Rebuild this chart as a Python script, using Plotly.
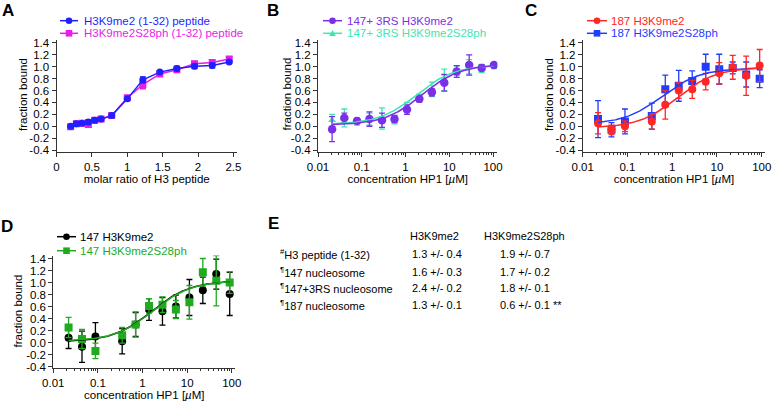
import numpy as np
import plotly.graph_objects as go

# ---------------- data ----------------
# Panel A: peptide titration
a_ratio = [0.2, 0.28, 0.36, 0.45, 0.54, 0.63, 0.78, 1.0, 1.22, 1.46, 1.7, 1.95, 2.2, 2.44]
a_me2 = [0.0, 0.04, 0.05, 0.07, 0.10, 0.12, 0.18, 0.46, 0.78, 0.91, 0.97, 1.01, 1.02, 1.08]
a_me2_err = [0.02, 0.04, 0.02, 0.04, 0.04, 0.02, 0.02, 0.02, 0.05, 0.02, 0.04, 0.04, 0.04, 0.02]
a_ph = [-0.01, 0.04, 0.05, 0.03, 0.10, 0.12, 0.18, 0.48, 0.70, 0.88, 0.95, 1.05, 1.07, 1.13]
a_ph_err = [0.03, 0.03, 0.04, 0.05, 0.03, 0.02, 0.02, 0.03, 0.07, 0.02, 0.04, 0.04, 0.03, 0.03]

# Panel B: 147+3RS nucleosomes
b_conc = [0.021, 0.04, 0.078, 0.15, 0.29, 0.56, 1.08, 2.07, 4.0, 7.7, 14.8, 28.5, 55, 105]
b_me2 = [-0.05, 0.14, 0.09, 0.12, 0.10, 0.12, 0.28, 0.46, 0.57, 0.73, 0.92, 1.03, 0.98, 1.03]
b_me2_err = [0.21, 0.08, 0.04, 0.12, 0.12, 0.06, 0.08, 0.05, 0.06, 0.14, 0.10, 0.17, 0.05, 0.04]
b_ph = [0.10, 0.14, 0.07, 0.12, 0.13, 0.10, 0.30, 0.48, 0.62, 0.78, 0.93, 1.00, 0.97, 1.02]
b_ph_err = [0.10, 0.15, 0.05, 0.10, 0.18, 0.06, 0.10, 0.06, 0.12, 0.18, 0.08, 0.12, 0.07, 0.05]

# Panel C: 187 nucleosomes
c_conc = [0.022, 0.044, 0.088, 0.35, 0.7, 1.4, 2.8, 5.6, 11.25, 22.5, 45, 90]
c_me2 = [0.05, -0.06, 0.0, 0.08, 0.36, 0.60, 0.62, 0.75, 0.89, 0.99, 0.85, 1.02]
c_me2_err = [0.18, 0.08, 0.09, 0.13, 0.24, 0.13, 0.15, 0.14, 0.18, 0.20, 0.33, 0.27]
c_ph = [0.12, -0.06, 0.08, 0.17, 0.62, 0.68, 0.76, 1.00, 0.96, 0.98, 0.87, 0.80]
c_ph_err = [0.31, 0.12, 0.21, 0.22, 0.24, 0.26, 0.17, 0.21, 0.25, 0.10, 0.21, 0.15]

# Panel D: 147 nucleosomes
d_conc = [0.022, 0.044, 0.088, 0.35, 0.7, 1.4, 2.8, 5.6, 11.25, 22.5, 45, 90]
d_me2 = [0.08, -0.07, 0.10, 0.02, 0.30, 0.55, 0.52, 0.60, 0.75, 0.87, 1.14, 0.81]
d_me2_err = [0.18, 0.26, 0.23, 0.21, 0.20, 0.18, 0.23, 0.19, 0.30, 0.22, 0.25, 0.36]
d_ph = [0.25, 0.06, -0.14, 0.12, 0.30, 0.61, 0.63, 0.55, 0.67, 1.17, 1.03, 1.00]
d_ph_err = [0.17, 0.16, 0.13, 0.13, 0.21, 0.12, 0.13, 0.15, 0.28, 0.23, 0.42, 0.18]

# Panel E: table of Kd values (µM)
e_rows = ["H3 peptide (1-32)", "147 nucleosome", "147+3RS nucleosome", "187 nucleosome"]
e_marks = ["#", "¶", "¶", "¶"]
e_kd_me2 = [1.3, 1.6, 2.4, 1.3]
e_kd_me2_err = [0.4, 0.3, 0.2, 0.1]
e_kd_ph = [1.9, 1.7, 1.8, 0.6]
e_kd_ph_err = [0.7, 0.2, 0.1, 0.1]
e_notes = ["", "", "", " **"]
e_headers = ["H3K9me2", "H3K9me2S28ph"]

# fit parameters (bottom, top) for binding curves; Kd taken from table
b_fit_me2 = (0.02, 1.04); b_fit_ph = (0.03, 1.03)
c_fit_me2 = (-0.03, 0.99); c_fit_ph = (0.03, 0.98)
d_fit_me2 = (0.01, 1.03); d_fit_ph = (0.02, 1.03)

y_ticks = [-0.4, -0.2, 0.0, 0.2, 0.4, 0.6, 0.8, 1.0, 1.2, 1.4]
y_ticktext = ["%.1f" % v for v in y_ticks]
a_xticks = [0, 0.5, 1, 1.5, 2, 2.5]
a_xticktext = ["0", "0.5", "1", "1.5", "2", "2.5"]
log_ticks = [0.01, 0.1, 1, 10, 100]
log_ticktext = ["0.01", "0.1", "1", "10", "100"]
log_minor = [m * d for d in [0.01, 0.1, 1, 10] for m in range(2, 10)]

# ---------------- styling ----------------
W, H = 773, 401
FONT = "Liberation Sans, Arial, Helvetica, sans-serif"
BLUE_A, MAG_A = "#1f1fff", "#e61ee6"
PURPLE, TEAL = "#7a2fe8", "#3ee6b4"
RED_C, BLUE_C = "#ff2626", "#1f3cff"
BLACK_D, GREEN_D = "#000000", "#1faa1f"


def dxp(p0, p1):
    return [p0 / W, p1 / W]


def dyp(top, bottom):
    return [1 - bottom / H, 1 - top / H]


def hill(x, kd, bottom, top):
    x = np.asarray(x)
    return bottom + (top - bottom) * x / (kd + x)


fig = go.Figure()


def err(arr, color, width=3):
    return dict(type="data", array=arr, visible=True, color=color, thickness=1.3, width=width)


# Panel A
fig.add_trace(go.Scatter(x=a_ratio, y=a_ph, mode="lines+markers", xaxis="x", yaxis="y",
                         line=dict(color=MAG_A, width=1.5),
                         marker=dict(symbol="square", size=7, color=MAG_A),
                         error_y=err(a_ph_err, MAG_A), hoverinfo="skip", showlegend=False))
fig.add_trace(go.Scatter(x=a_ratio, y=a_me2, mode="lines+markers", xaxis="x", yaxis="y",
                         line=dict(color=BLUE_A, width=1.5),
                         marker=dict(symbol="circle", size=7, color=BLUE_A),
                         error_y=err(a_me2_err, BLUE_A), hoverinfo="skip", showlegend=False))


def fit_panel(conc, series, xa, ya):
    grid = np.logspace(np.log10(min(conc)), np.log10(max(conc)), 200)
    for (vals, errs, kd, fit, color, sym, size) in series:
        fig.add_trace(go.Scatter(x=conc, y=vals, mode="markers", xaxis=xa, yaxis=ya,
                                 marker=dict(symbol=sym, size=size, color=color),
                                 error_y=err(errs, color), hoverinfo="skip", showlegend=False))
    for (vals, errs, kd, fit, color, sym, size) in series:
        fig.add_trace(go.Scatter(x=grid, y=hill(grid, kd, *fit), mode="lines", xaxis=xa, yaxis=ya,
                                 line=dict(color=color, width=1.5), hoverinfo="skip", showlegend=False))


fit_panel(b_conc, [(b_ph, b_ph_err, e_kd_ph[2], b_fit_ph, TEAL, "triangle-up", 7),
                   (b_me2, b_me2_err, e_kd_me2[2], b_fit_me2, PURPLE, "circle", 8.5)], "x2", "y2")
fit_panel(c_conc, [(c_ph, c_ph_err, e_kd_ph[3], c_fit_ph, BLUE_C, "square", 8),
                   (c_me2, c_me2_err, e_kd_me2[3], c_fit_me2, RED_C, "circle", 8)], "x3", "y3")
fit_panel(d_conc, [(d_me2, d_me2_err, e_kd_me2[1], d_fit_me2, BLACK_D, "circle", 8),
                   (d_ph, d_ph_err, e_kd_ph[1], d_fit_ph, GREEN_D, "square", 8)], "x4", "y4")

# legend keys (drawn manually as shapes + annotations, pixel positions)
legend_items = [
    # (x0, x1, y, text_x, color, symbol, text)
    (60, 78, 20.7, 82, BLUE_A, "circle", "H3K9me2 (1-32) peptide"),
    (60, 78, 33.3, 82, MAG_A, "square", "H3K9me2S28ph (1-32) peptide"),
    (323, 342, 20.7, 345, PURPLE, "circle", "147+ 3RS H3K9me2"),
    (323, 342, 33.3, 345, TEAL, "triangle", "147+ 3RS H3K9me2S28ph"),
    (587, 607, 20.7, 609, RED_C, "circle", "187 H3K9me2"),
    (587, 607, 33.3, 609, BLUE_C, "square", "187 H3K9me2S28ph"),
    (57, 76, 236.7, 78, BLACK_D, "circle", "147 H3K9me2"),
    (57, 76, 250.7, 78, GREEN_D, "square", "147 H3K9me2S28ph"),
]
annotations = []
shapes = []
R = 3.3
for (x0, x1, yy, tx, color, sym, text) in legend_items:
    px = lambda v: v / W
    py = lambda v: 1 - v / H
    shapes.append(dict(type="line", xref="paper", yref="paper", x0=px(x0), x1=px(x1),
                       y0=py(yy), y1=py(yy), line=dict(color=color, width=1.5)))
    xm = (x0 + x1) / 2
    if sym == "circle":
        shapes.append(dict(type="circle", xref="paper", yref="paper", x0=px(xm - R), x1=px(xm + R),
                           y0=py(yy + R), y1=py(yy - R), fillcolor=color, line=dict(width=0)))
    elif sym == "square":
        shapes.append(dict(type="rect", xref="paper", yref="paper", x0=px(xm - R), x1=px(xm + R),
                           y0=py(yy + R), y1=py(yy - R), fillcolor=color, line=dict(width=0)))
    else:
        path = "M %f %f L %f %f L %f %f Z" % (px(xm - R), py(yy + R * 0.8), px(xm + R), py(yy + R * 0.8),
                                             px(xm), py(yy - R))
        shapes.append(dict(type="path", xref="paper", yref="paper", path=path, fillcolor=color,
                           line=dict(width=0)))
    annotations.append(dict(x=tx / W, y=1 - yy / H, xref="paper", yref="paper", text=text,
                            showarrow=False, xanchor="left", yanchor="middle",
                            font=dict(family=FONT, size=11.5, color=color)))

# panel letters
for (lx, ly, lt) in [(8, 11, "A"), (273, 10, "B"), (531, 10, "C"), (7, 226, "D"), (273, 224, "E")]:
    annotations.append(dict(x=lx / W, y=1 - ly / H, xref="paper", yref="paper", text="<b>%s</b>" % lt,
                            showarrow=False, xanchor="center", yanchor="middle",
                            font=dict(family=FONT, size=17, color="black")))

# y-axis titles (rotated text)
TITLEF = dict(family=FONT, size=11.5, color="black")
for (tx, ty) in [(22.5, 94.5), (286, 94.5), (548.5, 94.5), (17.5, 311)]:
    annotations.append(dict(x=tx / W, y=1 - ty / H, xref="paper", yref="paper", text="fraction bound",
                            textangle=-90, showarrow=False, xanchor="center", yanchor="middle",
                            font=TITLEF))

# table E
TF = dict(family=FONT, size=11, color="black")
for hx, ht in zip([408, 482], e_headers):
    annotations.append(dict(x=hx / W, y=1 - 236 / H, xref="paper", yref="paper", text=ht,
                            showarrow=False, xanchor="left", yanchor="middle", font=TF))
row_y = [254.3, 271.5, 288.3, 305]
for i in range(len(e_rows)):
    yy = 1 - row_y[i] / H
    annotations.append(dict(x=278 / W, y=yy, xref="paper", yref="paper",
                            text="<sup>%s</sup>%s" % (e_marks[i], e_rows[i]),
                            showarrow=False, xanchor="left", yanchor="middle", font=TF))
    annotations.append(dict(x=410 / W, y=yy, xref="paper", yref="paper",
                            text="%.1f +/- %.1f" % (e_kd_me2[i], e_kd_me2_err[i]),
                            showarrow=False, xanchor="left", yanchor="middle", font=TF))
    annotations.append(dict(x=498 / W, y=yy, xref="paper", yref="paper",
                            text="%.1f +/- %.1f%s" % (e_kd_ph[i], e_kd_ph_err[i], e_notes[i]),
                            showarrow=False, xanchor="left", yanchor="middle", font=TF))

AX = dict(showline=True, linecolor="#333", linewidth=1, ticks="outside", ticklen=4, tickwidth=1,
          tickcolor="#333", showgrid=False, zeroline=False, automargin=False,
          tickfont=dict(family=FONT, size=11.5, color="black"))


def yax(dom, anchor):
    return dict(AX, domain=dom, anchor=anchor, range=[-0.43, 1.45], tickmode="array",
                tickvals=y_ticks, ticktext=y_ticktext)


def logx(dom, anchor, rng):
    return dict(AX, type="log", domain=dom, anchor=anchor, range=rng, tickmode="array",
                tickvals=log_ticks, ticktext=log_ticktext,
                minor=dict(ticks="outside", ticklen=2, tickcolor="#333", tickmode="array",
                           tickvals=log_minor, showgrid=False),
                title=dict(text="concentration HP1 [<i>µ</i>M]", font=TITLEF, standoff=2))


top_dom = dyp(40.0, 151.8)
fig.update_layout(
    width=W, height=H, margin=dict(l=0, r=0, t=0, b=0, autoexpand=False),
    paper_bgcolor="white", plot_bgcolor="white", showlegend=False,
    font=dict(family=FONT, color="black"),
    xaxis=dict(AX, domain=dxp(56.5, 237), anchor="y", range=[0, 2.55], tickmode="array",
               tickvals=a_xticks, ticktext=a_xticktext,
               title=dict(text="molar ratio of H3 peptide", font=TITLEF, standoff=2)),
    yaxis=yax(top_dom, "x"),
    xaxis2=logx(dxp(318, 497.4), "y2", [-2, 2.1]),
    yaxis2=yax(top_dom, "x2"),
    xaxis3=logx(dxp(582.7, 765.3), "y3", [-2, 2.08]),
    yaxis3=yax(top_dom, "x3"),
    xaxis4=logx(dxp(53.3, 235.3), "y4", [-2, 2.08]),
    yaxis4=yax(dyp(255.5, 368.3), "x4"),
    annotations=annotations,
    shapes=shapes,
    hovermode=False,
)

fig.write_html("out.html", config={"displayModeBar": False, "staticPlot": True},
               post_script="document.body.style.margin='0';document.body.style.padding='0';"
                           "document.body.style.overflow='hidden';")
